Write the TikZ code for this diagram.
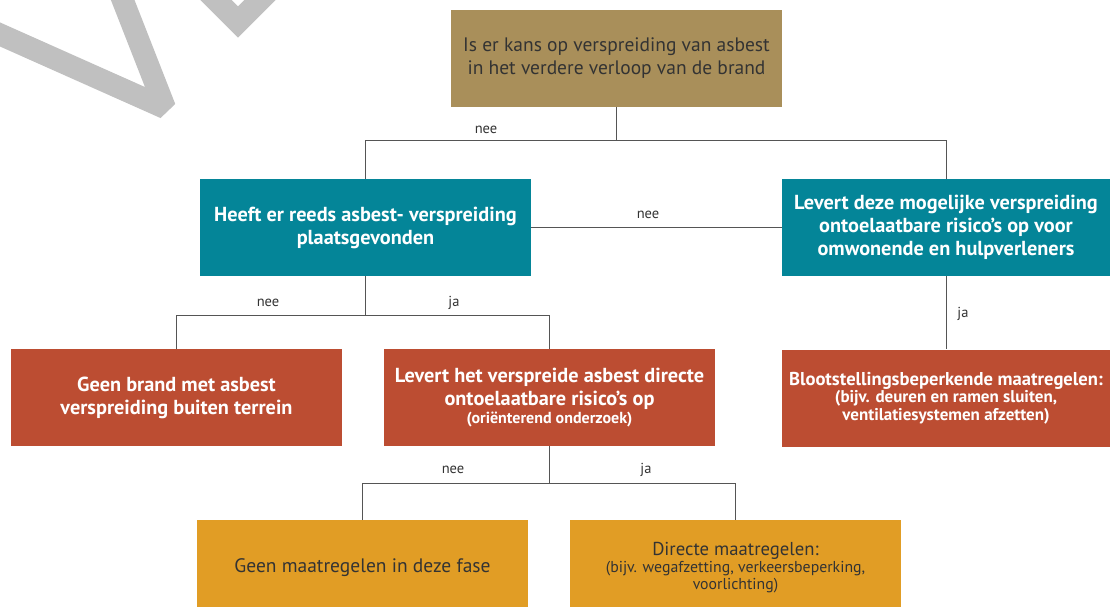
\documentclass[tikz,border=0pt]{standalone}
\usepackage{fontspec}
\setmainfont{PT Sans}
\definecolor{gold}{HTML}{A98F5A}
\definecolor{tealbox}{HTML}{048598}
\definecolor{rust}{HTML}{BC4D32}
\definecolor{amber}{HTML}{E19D25}
\definecolor{wmark}{HTML}{C0C0C0}
\definecolor{txt}{HTML}{333333}
\definecolor{lnc}{HTML}{555555}
\begin{document}
\begin{tikzpicture}[x=1pt,y=-1pt,
  box/.style={minimum width=331pt, minimum height=97pt, inner sep=0pt, align=center},
  q/.style={box, fill=tealbox, text=white, font=\bfseries\fontsize{20.3}{23}\selectfont},
  r/.style={box, fill=rust, text=white, font=\bfseries\fontsize{20.3}{23}\selectfont},
  conn/.style={draw=lnc, line width=1pt},
  lab/.style={text=txt, font=\fontsize{14.5}{16}\selectfont, inner sep=1pt}]
\useasboundingbox (0,0) rectangle (1110,607);
\begin{scope}
  \clip (0,0) rectangle (1110,607);
  \draw[wmark, line width=22pt, line join=bevel] (-10,30) -- (165,108) -- (118,-12);
  \draw[wmark, line width=22pt, line join=miter] (198,-18) -- (238,22) -- (278,-18);
  % boxes
  \node[box, fill=gold, text=txt, font=\fontsize{19.5}{23}\selectfont] (top) at (616.5,58.5)
    {Is er kans op verspreiding van asbest\\in het verdere verloop van de brand};
  \node[q] (tl) at (365.5,227.5) {Heeft er reeds asbest- verspreiding\\plaatsgevonden};
  \node[q, minimum width=328pt] (tr) at (946,227.5)
    {Levert deze mogelijke verspreiding\\ontoelaatbare risico’s op voor\\omwonende en hulpverleners};
  \node[r] (rl) at (176.5,397.5) {Geen brand met asbest\\verspreiding buiten terrein};
  \node[r] (rm) at (549.5,397.5)
    {Levert het verspreide asbest directe\\ontoelaatbare risico’s op\\[-5pt]{\fontsize{16}{17}\selectfont(oriënterend onderzoek)}};
  \node[r, minimum width=328pt, font=\bfseries\fontsize{17}{17.5}\selectfont] (rr) at (946,398)
    {{\fontsize{18.6}{22}\selectfont Blootstellingsbeperkende maatregelen:}\\(bijv. deuren en ramen sluiten,\\ventilatiesystemen afzetten)};
  \node[box, fill=amber, text=txt, font=\fontsize{19.5}{23}\selectfont, minimum height=95pt] (ol) at (362.5,567.5)
    {Geen maatregelen in deze fase};
  \node[box, fill=amber, text=txt, font=\fontsize{15.8}{17}\selectfont, minimum height=95pt] (or) at (735.5,567.5)
    {{\fontsize{18.7}{20}\selectfont Directe maatregelen:}\\(bijv. wegafzetting, verkeersbeperking,\\voorlichting)};
\end{scope}
% connectors
\coordinate (j1) at (616.5,140);
\draw[conn] (top.south) -- (j1);
\draw[conn] (tl.north) -- (tl.north |- j1) -- (tr.north |- j1) -- (tr.north);
\draw[conn] (tl.east) -- (tr.west);
\coordinate (j2) at (365.5,315);
\draw[conn] (tl.south) -- (j2);
\draw[conn] (rl.north) -- (rl.north |- j2) -- (rm.north |- j2) -- (rm.north);
\draw[conn] (tr.south) -- (rr.north);
\coordinate (j3) at (549.5,483);
\draw[conn] (rm.south) -- (j3);
\draw[conn] (ol.north) -- (ol.north |- j3) -- (or.north |- j3) -- (or.north);
% labels
\node[lab] (l1) at (486,130) {nee};
\node[lab] (l2) at (648,215) {nee};
\node[lab] (l3) at (268,303) {nee};
\node[lab] (l4) at (454,303) {ja};
\node[lab] (l5) at (963,314) {ja};
\node[lab] (l6) at (453,470) {nee};
\node[lab] (l7) at (646,470) {ja};
\end{tikzpicture}
\end{document}
